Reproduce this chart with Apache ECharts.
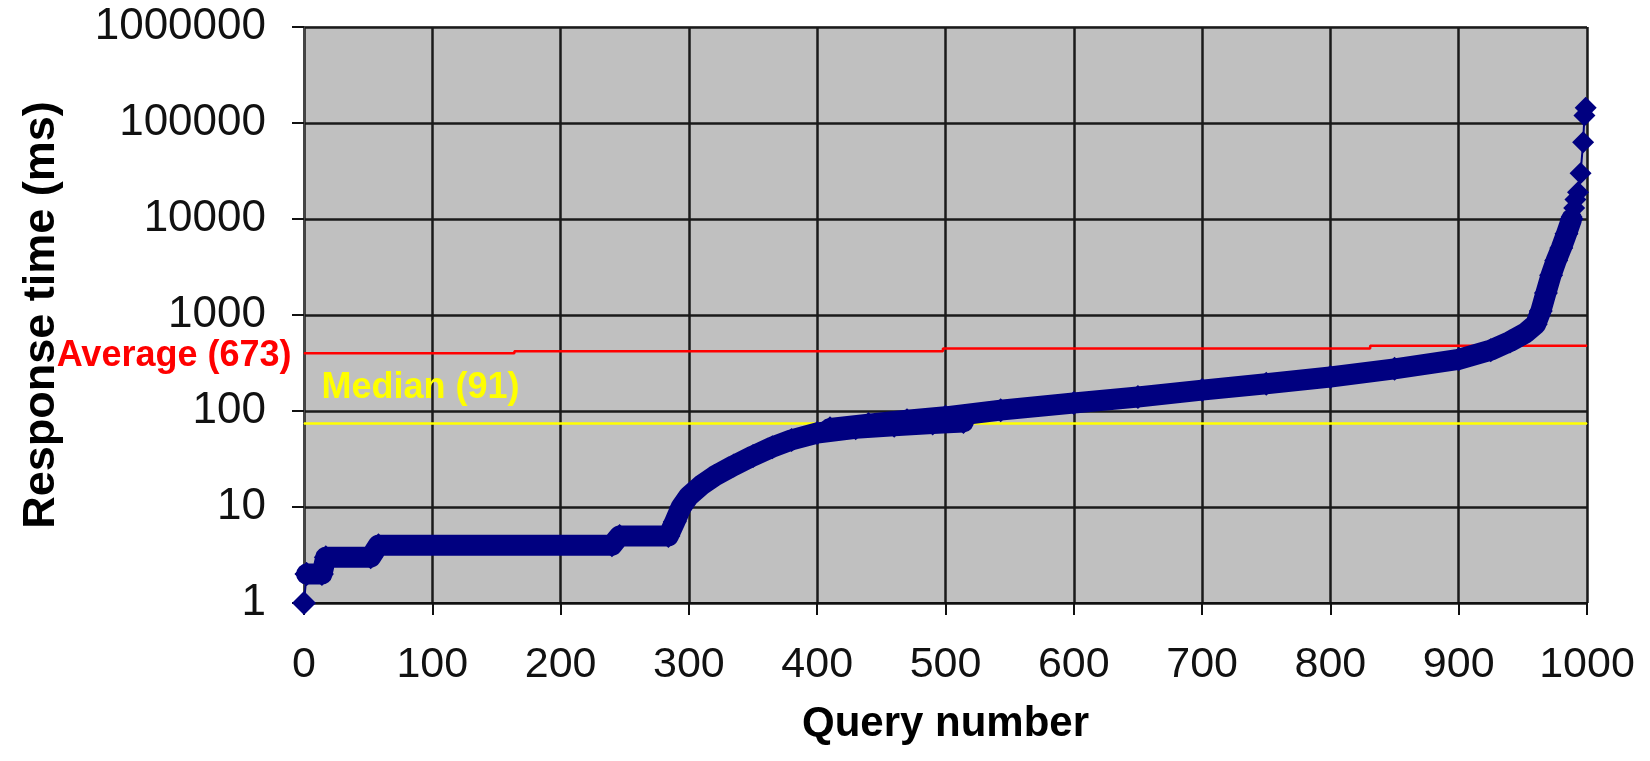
<!DOCTYPE html>
<html>
<head>
<meta charset="utf-8">
<title>Response time per query</title>
<script src="https://cdn.jsdelivr.net/npm/echarts@6/dist/echarts.min.js"></script>
<style>
  html, body { margin: 0; padding: 0; background: #fff; }
  #chart { width: 1650px; height: 761px; }
</style>
</head>
<body>
<div id="chart"></div>
<script>
// values (queries sorted by response time)
const headQuery = [0, 2];
const headTime = [1, 2];

const lowerQuery = [2, 14, 17, 52, 58, 240, 246, 284, 289, 294, 300, 310, 320, 335, 350, 365, 380, 400, 430, 460, 490, 514];
const lowerTime = [2, 2, 3, 3, 4, 4, 5, 5, 7, 10, 13, 17, 21, 27, 34, 42, 50, 59, 66, 70, 74, 77];

const upperQuery = [410, 440, 470, 500, 543, 600, 650, 700, 750, 800, 850, 900, 925, 940, 952, 960, 964, 968, 972, 976, 980, 984, 988];
const upperTime = [66, 73, 80, 87, 102, 121, 140, 165, 192, 226, 275, 345, 430, 530, 650, 800, 1100, 1700, 2600, 3700, 5000, 7000, 10000];

const tailQuery = [988, 990, 991, 993, 995, 997, 998, 999];
const tailTime = [10500, 13000, 16000, 19000, 30000, 63000, 120000, 144000];

const avgQuery = [0, 164, 498, 831, 1000];
const avgTime = [400, 420, 448, 478, 478];
const avgLabel = 673;

const medQuery = [0, 1000];
const medTime = [74, 74];
const medLabel = 91;

const xMin = 0, xMax = 1000, xStep = 100;
const yMin = 1, yMax = 1000000;

const FONT = '"Liberation Sans", Arial, sans-serif';
const NAVY = '#000080';

const zip = (xs, ys) => xs.map((x, i) => [x, ys[i]]);

const chart = echarts.init(document.getElementById('chart'), null, { renderer: 'canvas' });

chart.setOption({
  animation: false,
  grid: {
    left: 304, right: 63, top: 27, bottom: 158,
    show: true, backgroundColor: '#C0C0C0', borderColor: '#808080', borderWidth: 1
  },
  xAxis: {
    type: 'value', min: xMin, max: xMax, interval: xStep,
    name: 'Query number', nameLocation: 'middle', nameGap: 100,
    nameTextStyle: { fontFamily: FONT, fontSize: 42, fontWeight: 'bold', color: '#000' },
    axisLine: { lineStyle: { color: '#111', width: 2 } },
    axisTick: { inside: false, length: 12, lineStyle: { color: '#111', width: 2 } },
    axisLabel: { margin: 41, fontFamily: FONT, fontSize: 43, color: '#111', formatter: v => String(v) },
    splitLine: { show: true, lineStyle: { color: '#1a1a1a', width: 2.5 } }
  },
  yAxis: {
    type: 'log', logBase: 10, min: yMin, max: yMax,
    name: 'Response time (ms)', nameLocation: 'middle', nameGap: 240, nameRotate: 90,
    nameTextStyle: { fontFamily: FONT, fontSize: 45, fontWeight: 'bold', color: '#000' },
    axisLine: { show: true, lineStyle: { color: '#444', width: 2 } },
    axisTick: { show: true, inside: false, length: 12, lineStyle: { color: '#111', width: 2 } },
    axisLabel: { margin: 38, fontFamily: FONT, fontSize: 44, color: '#111', formatter: v => String(Math.round(v)) },
    splitLine: { show: true, lineStyle: { color: '#1a1a1a', width: 2.5 } },
    minorTick: { show: false }
  },
  series: [
    {
      name: 'Average', type: 'line', step: 'end', z: 3,
      symbol: 'circle', symbolSize: 1, itemStyle: { color: '#FF0000' },
      lineStyle: { color: '#FF0000', width: 2.5 },
      data: zip(avgQuery, avgTime).map((p, i) => i === 0 ? {
        value: p,
        label: {
          show: true, position: 'left', distance: 12, offset: [0, 3],
          formatter: `Average (${avgLabel})`,
          fontFamily: FONT, fontSize: 36, fontWeight: 'bold', color: '#FF0000'
        }
      } : p)
    },
    {
      name: 'Median', type: 'line', z: 3,
      symbol: 'circle', symbolSize: 1, itemStyle: { color: '#FFFF00' },
      lineStyle: { color: '#FFFF00', width: 2.5 },
      data: zip(medQuery, medTime).map((p, i) => i === 0 ? {
        value: p,
        label: {
          show: true, position: 'right', distance: 17, offset: [0, -35],
          formatter: `Median (${medLabel})`,
          fontFamily: FONT, fontSize: 36, fontWeight: 'bold', color: '#FFFF00'
        }
      } : p)
    },
    {
      name: 'head', type: 'line', z: 4, clip: false,
      symbol: 'diamond', symbolSize: 24,
      itemStyle: { color: NAVY }, lineStyle: { color: NAVY, width: 2 },
      data: zip(headQuery, headTime)
    },
    {
      name: 'lower', type: 'line', z: 4,
      symbol: 'diamond', symbolSize: 24,
      itemStyle: { color: NAVY },
      lineStyle: { color: NAVY, width: 21, join: 'round', cap: 'round' },
      data: zip(lowerQuery, lowerTime)
    },
    {
      name: 'upper', type: 'line', z: 4,
      symbol: 'diamond', symbolSize: 24,
      itemStyle: { color: NAVY },
      lineStyle: { color: NAVY, width: 21, join: 'round', cap: 'round' },
      data: zip(upperQuery, upperTime)
    },
    {
      name: 'tail', type: 'line', z: 4, clip: false,
      symbol: 'diamond', symbolSize: 22,
      itemStyle: { color: NAVY }, lineStyle: { color: NAVY, width: 2 },
      data: zip(tailQuery, tailTime)
    }
  ]
});
</script>
</body>
</html>
